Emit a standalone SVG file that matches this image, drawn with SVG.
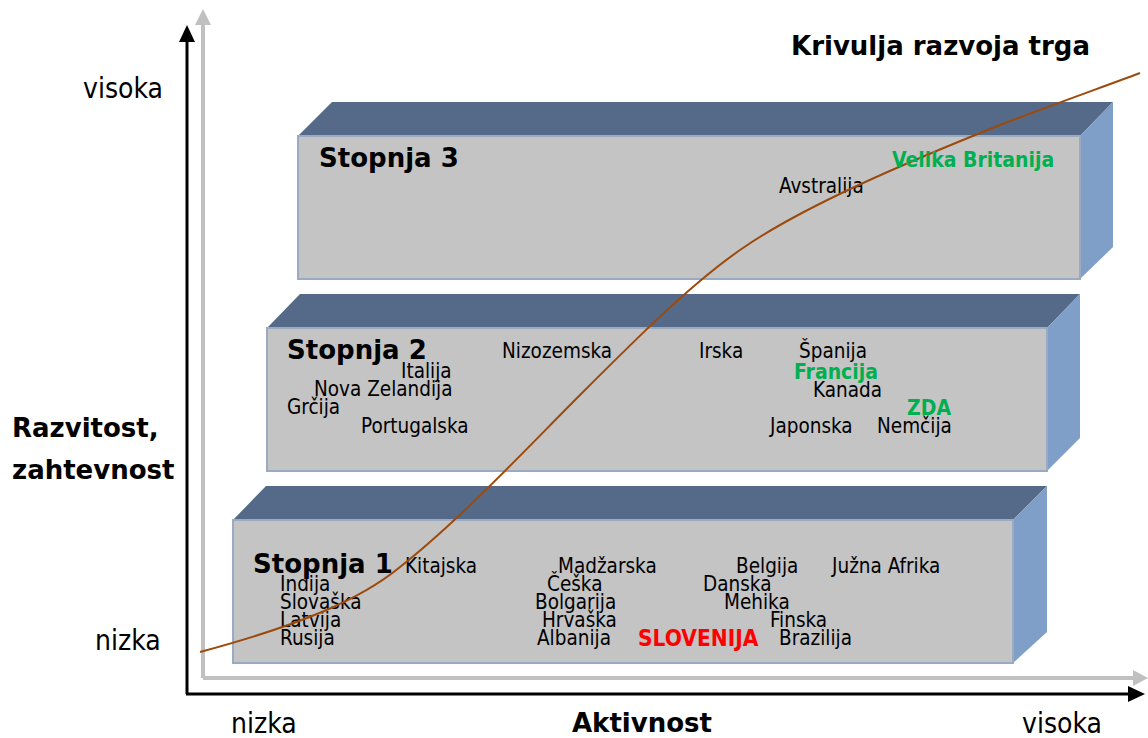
<svg xmlns="http://www.w3.org/2000/svg" width="1148" height="738" viewBox="0 0 1148 738">
<style>
.front{fill:#C4C4C4;stroke:#9AAAC0;stroke-width:2}
.top{fill:#556A88}
.side{fill:#7F9FC8}
.t{font-family:"DejaVu Sans Condensed","DejaVu Sans",sans-serif;font-size:20.5px;fill:#000}
.g{font-family:"DejaVu Sans Condensed","DejaVu Sans",sans-serif;font-size:21px;font-weight:bold;fill:#00B050}
.r{font-family:"DejaVu Sans Condensed","DejaVu Sans",sans-serif;font-size:22.5px;font-weight:bold;fill:#FF0000}
.h{font-family:"DejaVu Sans",sans-serif;font-size:26px;font-weight:bold;fill:#000}
.ax{font-family:"DejaVu Sans Condensed","DejaVu Sans",sans-serif;font-size:28px;fill:#000}
.axb{font-family:"DejaVu Sans",sans-serif;font-size:26px;font-weight:bold;fill:#000}
</style>
<g id="axes">
<line x1="203" y1="678" x2="203" y2="24" stroke="#C0C0C0" stroke-width="4"/>
<polygon points="203,9 195,25 211,25" fill="#C0C0C0"/>
<line x1="203" y1="678" x2="1134" y2="678" stroke="#C0C0C0" stroke-width="4"/>
<polygon points="1148,678 1133,670 1133,686" fill="#C0C0C0"/>
<line x1="187" y1="694" x2="187" y2="40" stroke="#000" stroke-width="3"/>
<polygon points="187,25 179,42 195,42" fill="#000"/>
<line x1="186" y1="694" x2="1130" y2="694" stroke="#000" stroke-width="3"/>
<polygon points="1145,694 1128,686 1128,702" fill="#000"/>
</g>
<g id="stage3">
<polygon class="top" points="298,136 332,102 1113,102 1080,136"/>
<polygon class="side" points="1080,136 1113,102 1113,247 1080,279"/>
<rect class="front" x="298" y="136" width="782" height="143"/>
<text class="h" x="319" y="167">Stopnja 3</text>
<text class="t" x="779" y="193">Avstralija</text>
</g>
<g id="stage2">
<polygon class="top" points="267,328 300,294 1080,294 1047,328"/>
<polygon class="side" points="1047,328 1080,294 1080,438 1047,471"/>
<rect class="front" x="267" y="328" width="780" height="143"/>
<text class="h" x="287" y="359">Stopnja 2</text>
<text class="t" x="502" y="358">Nizozemska</text>
<text class="t" x="699" y="358">Irska</text>
<text class="t" x="799" y="358">Španija</text>
<text class="t" x="401" y="378">Italija</text>
<text class="t" x="314" y="396">Nova Zelandija</text>
<text class="t" x="813" y="397">Kanada</text>
<text class="t" x="287" y="414">Grčija</text>
<text class="t" x="361" y="433">Portugalska</text>
<text class="t" x="770" y="433">Japonska</text>
<text class="t" x="877" y="433">Nemčija</text>
</g>
<g id="stage1">
<polygon class="top" points="233,520 266,486 1047,486 1013,520"/>
<polygon class="side" points="1013,520 1047,486 1047,632 1013,663"/>
<rect class="front" x="233" y="520" width="780" height="143"/>
<text class="h" x="253" y="573">Stopnja 1</text>
<text class="t" x="405" y="573">Kitajska</text>
<text class="t" x="558" y="573">Madžarska</text>
<text class="t" x="736" y="573">Belgija</text>
<text class="t" x="832" y="573">Južna Afrika</text>
<text class="t" x="280" y="591">Indija</text>
<text class="t" x="547" y="591">Češka</text>
<text class="t" x="703" y="591">Danska</text>
<text class="t" x="280" y="609">Slovaška</text>
<text class="t" x="535" y="609">Bolgarija</text>
<text class="t" x="724" y="609">Mehika</text>
<text class="t" x="280" y="627">Latvija</text>
<text class="t" x="542" y="627">Hrvaška</text>
<text class="t" x="770" y="627">Finska</text>
<text class="t" x="280" y="645">Rusija</text>
<text class="t" x="537" y="645">Albanija</text>
<text class="t" x="779" y="645">Brazilija</text>
</g>
<g id="connectors">
<path d="M200,652 C300,625 360,600 400,567 C460,520 530,445 580,395 C640,335 690,285 740,250 C800,208 900,165 1000,125 C1060,102 1100,88 1140,73" fill="none" stroke="#9C4A0C" stroke-width="2"/>
</g>
<g id="highlights">
<text class="g" x="892" y="167">Velika Britanija</text>
<text class="g" x="794" y="379">Francija</text>
<text class="g" x="907" y="415">ZDA</text>
<text class="r" x="638" y="646">SLOVENIJA</text>
</g>
<g id="labels">
<text class="axb" x="791" y="55">Krivulja razvoja trga</text>
<text class="ax" x="83" y="98">visoka</text>
<text class="ax" x="95" y="650">nizka</text>
<text class="axb" x="12" y="437">Razvitost,</text>
<text class="axb" x="12" y="479">zahtevnost</text>
<text class="ax" x="231" y="733">nizka</text>
<text class="axb" x="642" y="732" text-anchor="middle">Aktivnost</text>
<text class="ax" x="1022" y="733">visoka</text>
</g>
</svg>
